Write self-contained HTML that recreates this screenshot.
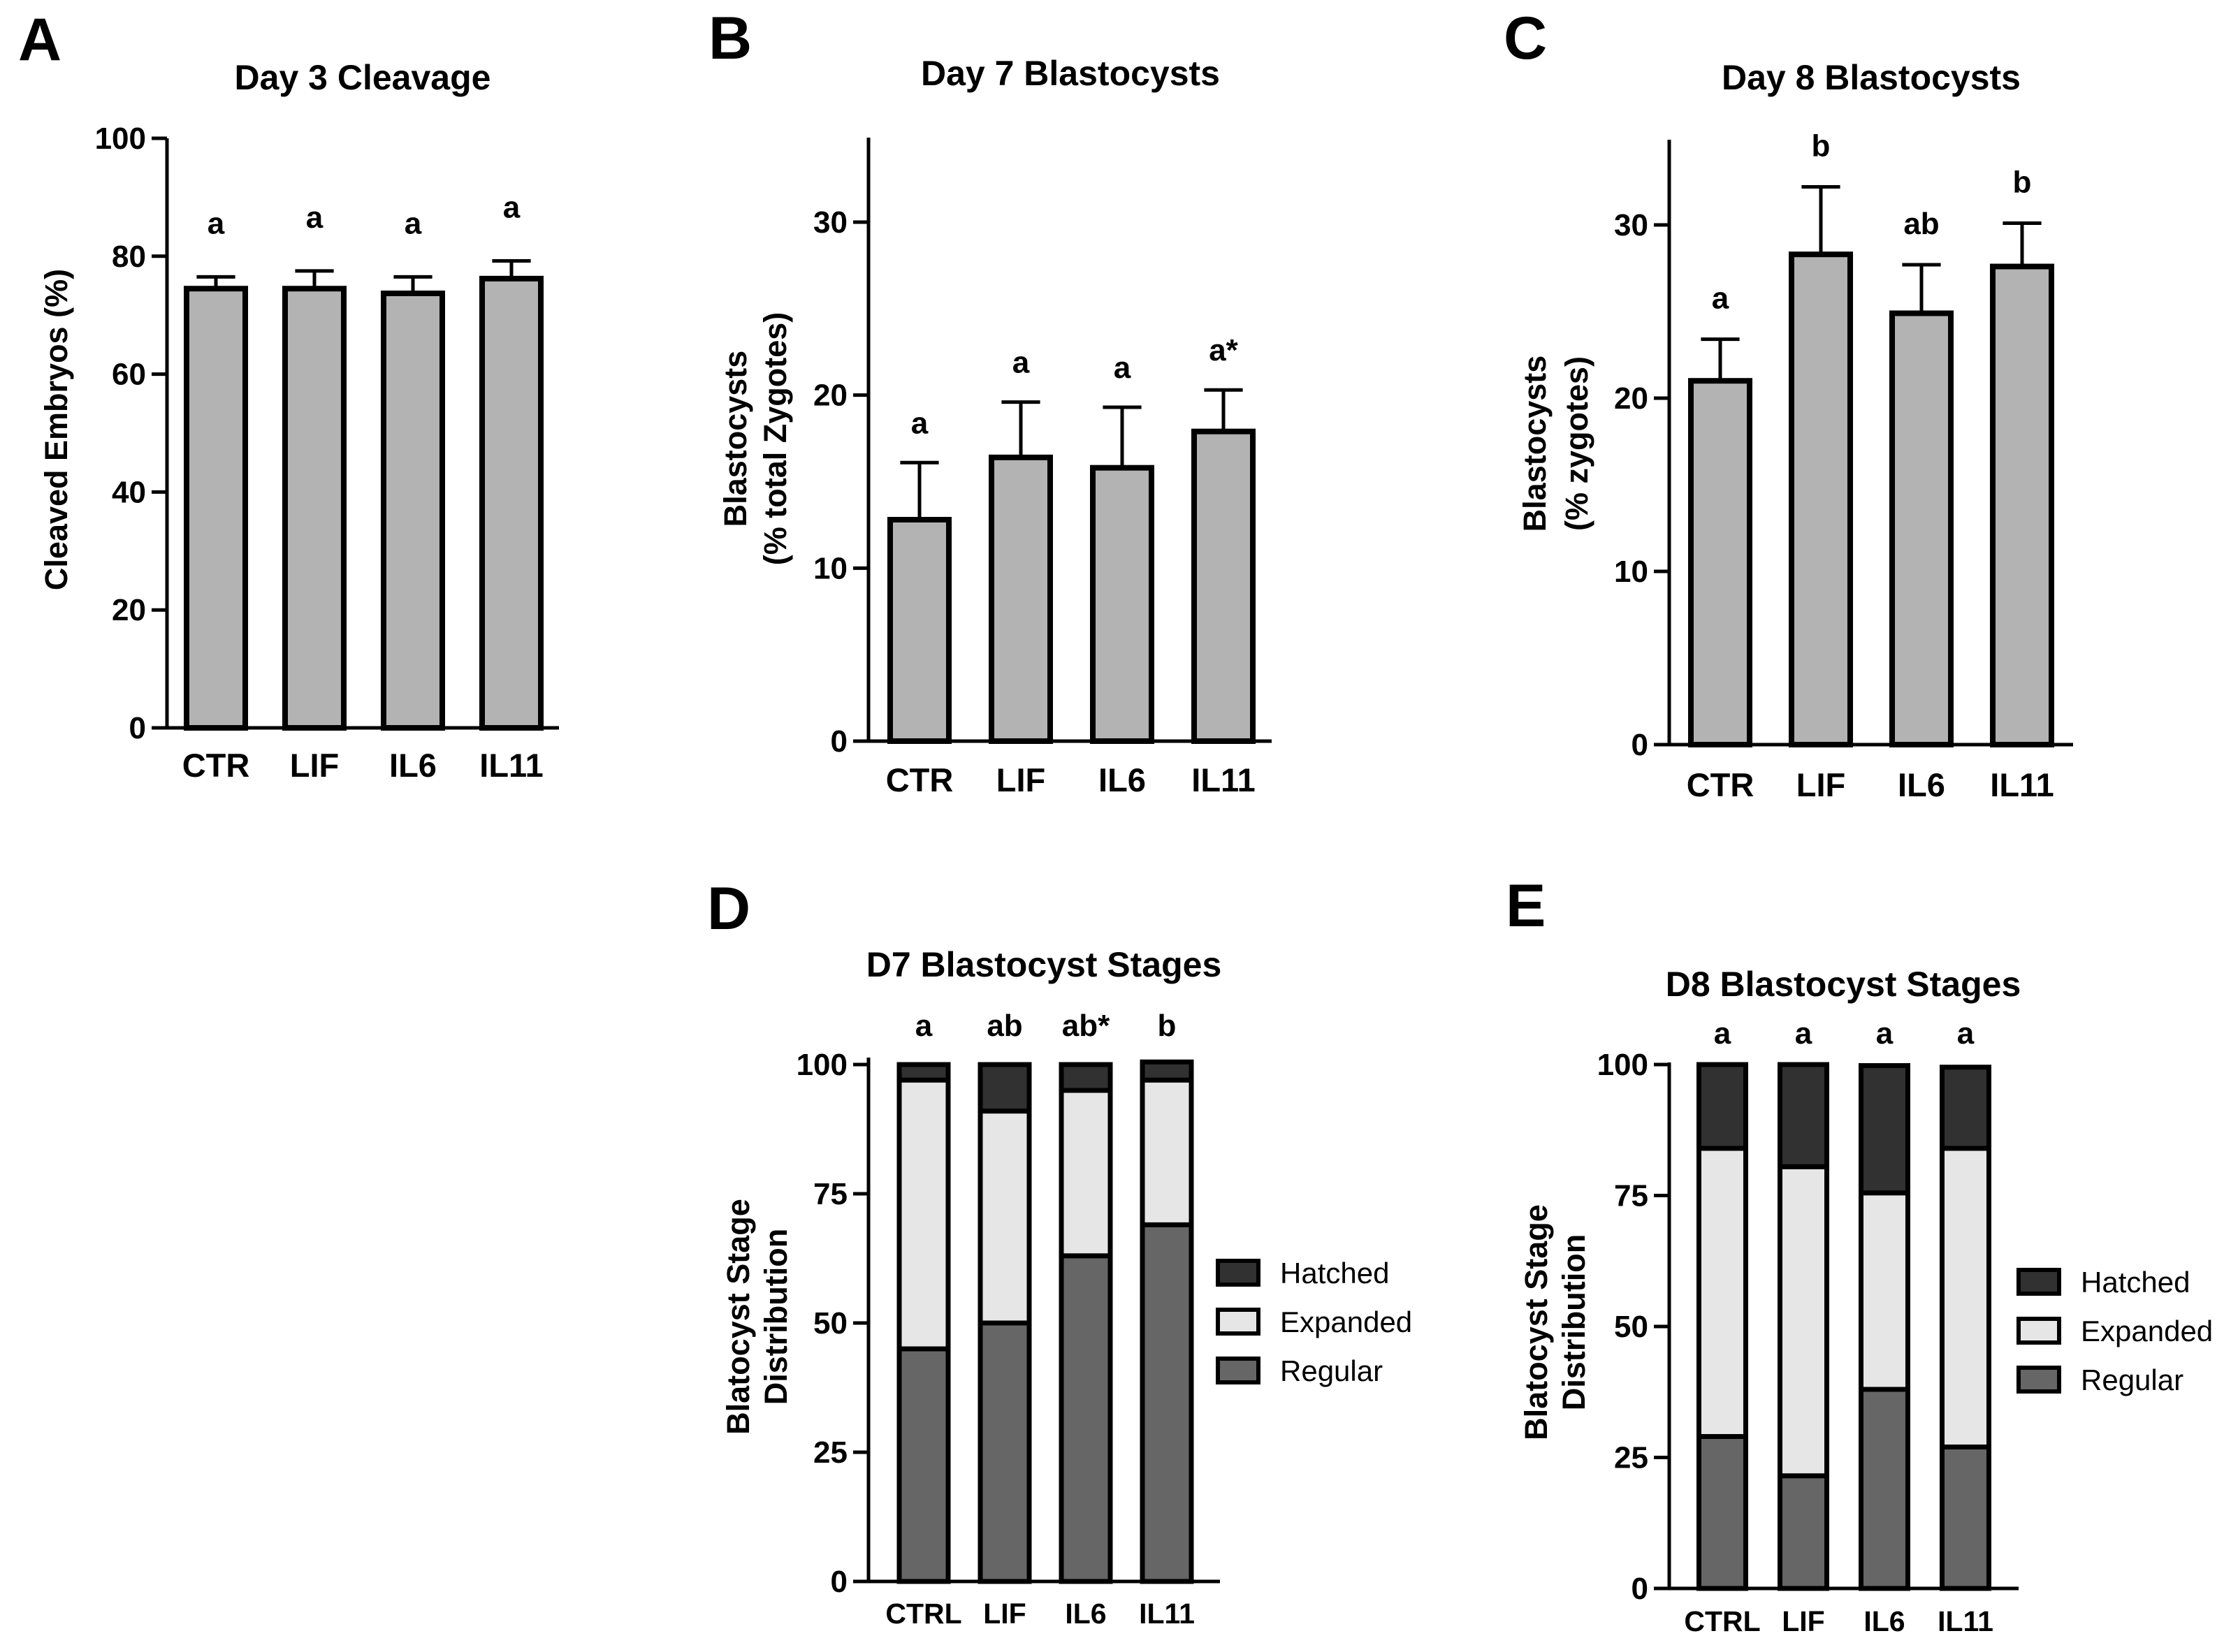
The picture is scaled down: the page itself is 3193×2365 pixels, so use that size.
<!DOCTYPE html>
<html><head><meta charset="utf-8"><style>
html,body{margin:0;padding:0;background:#fff}
svg{display:block}
text{font-family:"Liberation Sans",Arial,sans-serif}
</style></head><body>
<svg id="fig" width="3193" height="2365" viewBox="0 0 3193 2365" xmlns="http://www.w3.org/2000/svg"></svg>
<script>
// Panel A data
const catsA = ["CTR","LIF","IL6","IL11"];
const valsA = [74.5,74.5,73.7,76.2];
const errA = [76.5,77.5,76.5,79.2];
const lettersA = ["a","a","a","a"];
const ticksA = [0,20,40,60,80,100];
// Panel B data
const catsB = ["CTR","LIF","IL6","IL11"];
const valsB = [12.8,16.4,15.8,17.9];
const errB = [16.1,19.6,19.3,20.3];
const lettersB = ["a","a","a","a*"];
const ticksB = [0,10,20,30];
// Panel C data
const catsC = ["CTR","LIF","IL6","IL11"];
const valsC = [21.0,28.3,24.9,27.6];
const errC = [23.4,32.2,27.7,30.1];
const lettersC = ["a","b","ab","b"];
const ticksC = [0,10,20,30];
// Panel D data (stacked, %)
const catsD = ["CTRL","LIF","IL6","IL11"];
const regularD = [45,50,63,69];
const expandedD = [52,41,32,28];
const hatchedD = [3,9,5,3.5];
const lettersD = ["a","ab","ab*","b"];
const ticksD = [0,25,50,75,100];
// Panel E data
const catsE = ["CTRL","LIF","IL6","IL11"];
const regularE = [29,21.5,38,27];
const expandedE = [55,59,37.5,57];
const hatchedE = [16,19.5,24.3,15.5];
const lettersE = ["a","a","a","a"];
const ticksE = [0,25,50,75,100];

const NS="http://www.w3.org/2000/svg";
const svg=document.getElementById('fig');
function mk(tag,attrs,parent){const e=document.createElementNS(NS,tag);for(const k in attrs)e.setAttribute(k,attrs[k]);(parent||svg).appendChild(e);return e;}
function txt(s,attrs,parent){const e=mk('text',attrs,parent);e.textContent=s;return e;}

function axes(g,P,ticks){
  const y=v=>P.y0-(v-P.min)/(P.max-P.min)*(P.y0-P.yTop);
  const ax=mk('line',{x1:P.ax,y1:P.axisTop,x2:P.ax,y2:P.y0+2.5,stroke:'#000','stroke-width':5},g);
  
  const xa=mk('line',{x1:P.ax-22,y1:P.y0,x2:P.xEnd,y2:P.y0,stroke:'#000','stroke-width':5},g);
  
  ticks.forEach(t=>{
    const tl=mk('line',{x1:P.ax-22,y1:y(t),x2:P.ax,y2:y(t),stroke:'#000','stroke-width':5},g);
    
    const tt=txt(String(t),{x:P.ax-30,y:y(t)+15,'text-anchor':'end','font-size':44,'font-weight':'bold'},g);
    
  });
  return y;
}
function header(g,P){
  const l=txt(P.label,{x:P.lx,y:P.ly,'font-size':86,'font-weight':'bold'},g);
  
  const t=txt(P.title,{x:P.tx,y:P.ty,'text-anchor':'middle','font-size':50,'font-weight':'bold'},g);
  
  P.ytitle.forEach((s,i)=>{
    const x=P.ytx[i];
    const yt=txt(s,{x:x,y:P.yty,'text-anchor':'middle','font-size':45,'font-weight':'bold',transform:`rotate(-90 ${x} ${P.yty})`},g);
    
  });
}
function barPanel(P,cats,vals,errs,letters,ticks){
  const g=mk('g',{});
  
  header(g,P);
  const y=axes(g,P,ticks);
  cats.forEach((c,i)=>{
    const cx=P.x0+i*P.step, w=P.bw;
    const eb=mk('line',{x1:cx,y1:y(vals[i]),x2:cx,y2:y(errs[i]),stroke:'#000','stroke-width':5},g);
    
    const cap=mk('line',{x1:cx-w*0.3,y1:y(errs[i]),x2:cx+w*0.3,y2:y(errs[i]),stroke:'#000','stroke-width':5},g);
    
    const b=mk('rect',{x:cx-w/2+4,y:y(vals[i]),width:w-8,height:P.y0-y(vals[i]),fill:'#b3b3b3',stroke:'#000','stroke-width':8},g);
    
    const lt=txt(letters[i],{x:cx,y:y(errs[i])-P.lo,'text-anchor':'middle','font-size':44,'font-weight':'bold'},g);
    
    const xl=txt(c,{x:cx,y:P.xly,'text-anchor':'middle','font-size':47,'font-weight':'bold'},g);
    
  });
}
function stackPanel(P,cats,reg,exp,hat,letters,ticks){
  const g=mk('g',{});
  
  header(g,P);
  const y=axes(g,P,ticks);
  const fills=['#666666','#e6e6e6','#313131'];
  const snames=['regular','expanded','hatched'];
  cats.forEach((c,i)=>{
    const cx=P.x0+i*P.step,w=P.bw;
    let base=0;
    [reg[i],exp[i],hat[i]].forEach((v,k)=>{
      const top=base+v;
      const r=mk('rect',{x:cx-w/2+3.5,y:y(top),width:w-7,height:y(base)-y(top),fill:fills[k],stroke:'#000','stroke-width':7},g);
      
      
      base=top;
    });
    const lt=txt(letters[i],{x:cx,y:P.lety,'text-anchor':'middle','font-size':44,'font-weight':'bold'},g);
    
    const xl=txt(c,{x:cx,y:P.xly,'text-anchor':'middle','font-size':41,'font-weight':'bold'},g);
    
  });
  const lg=mk('g',{},g);
  
  const lab=['Hatched','Expanded','Regular'],lf=['#313131','#e6e6e6','#666666'];
  lab.forEach((s,k)=>{
    const cy=P.legY+k*P.legStep;
    const r=mk('rect',{x:P.legX,y:cy-17,width:58,height:34,fill:lf[k],stroke:'#000','stroke-width':6},lg);
    
    const t=txt(s,{x:P.legX+89,y:cy+15,'font-size':42},lg);
    
  });
}
barPanel({name:'panel-a',label:'A',lx:26,ly:86,title:'Day 3 Cleavage',tx:519,ty:128,ytitle:['Cleaved Embryos (%)'],ytx:[96],yty:615,
  ax:239,axisTop:198,yTop:198,y0:1042,min:0,max:100,xEnd:800,x0:309,step:141,bw:92,lo:62,xly:1112},catsA,valsA,errA,lettersA,ticksA);
barPanel({name:'panel-b',label:'B',lx:1014,ly:84,title:'Day 7 Blastocysts',tx:1532,ty:122,ytitle:['Blastocysts','(% total Zygotes)'],ytx:[1068,1125],yty:628,
  ax:1243,axisTop:197,yTop:318,y0:1061,min:0,max:30,xEnd:1820,x0:1316,step:145,bw:92,lo:42,xly:1133},catsB,valsB,errB,lettersB,ticksB);
barPanel({name:'panel-c',label:'C',lx:2152,ly:84,title:'Day 8 Blastocysts',tx:2678,ty:128,ytitle:['Blastocysts','(% zygotes)'],ytx:[2212,2272],yty:635,
  ax:2389,axisTop:200,yTop:322,y0:1066,min:0,max:30,xEnd:2967,x0:2462,step:144,bw:92,lo:44,xly:1140},catsC,valsC,errC,lettersC,ticksC);
stackPanel({name:'panel-d',label:'D',lx:1012,ly:1330,title:'D7 Blastocyst Stages',tx:1494,ty:1398,ytitle:['Blatocyst Stage','Distribution'],ytx:[1072,1126],yty:1885,
  ax:1243,axisTop:1514,yTop:1524,y0:2264,min:0,max:100,xEnd:1746,x0:1322,step:116,bw:77,lety:1483,xly:2324,legX:1743,legY:1822,legStep:70},catsD,regularD,expandedD,hatchedD,lettersD,ticksD);
stackPanel({name:'panel-e',label:'E',lx:2155,ly:1326,title:'D8 Blastocyst Stages',tx:2638,ty:1426,ytitle:['Blatocyst Stage','Distribution'],ytx:[2214,2268],yty:1893,
  ax:2389,axisTop:1521,yTop:1524,y0:2274,min:0,max:100,xEnd:2889,x0:2465,step:116,bw:74,lety:1494,xly:2335,legX:2889,legY:1835,legStep:70},catsE,regularE,expandedE,hatchedE,lettersE,ticksE);
</script>
</body></html>
